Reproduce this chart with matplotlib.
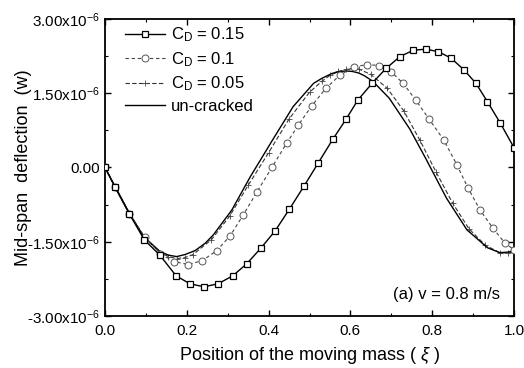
import matplotlib
matplotlib.use("Agg")
import matplotlib.pyplot as plt
from matplotlib.ticker import MultipleLocator

plt.rcParams['font.family'] = ['Liberation Sans', 'DejaVu Sans']
plt.rcParams['mathtext.fontset'] = 'custom'
plt.rcParams['mathtext.rm'] = 'Liberation Sans'
plt.rcParams['mathtext.it'] = 'Liberation Sans:italic'

# deflection values in units of 1e-6
x_c15 = [0, 0.024, 0.059, 0.096, 0.134, 0.174, 0.208, 0.242, 0.276, 0.312,
         0.346, 0.381, 0.416, 0.451, 0.487, 0.522, 0.557, 0.589, 0.618, 0.654,
         0.687, 0.721, 0.754, 0.785, 0.815, 0.846, 0.878, 0.907, 0.935, 0.967, 1.0]
y_c15 = [0.0, -0.39, -0.93, -1.46, -1.77, -2.19, -2.35, -2.41, -2.35, -2.19,
         -1.95, -1.63, -1.28, -0.84, -0.37, 0.10, 0.57, 0.97, 1.36, 1.71,
         2.00, 2.24, 2.37, 2.39, 2.34, 2.21, 1.97, 1.70, 1.33, 0.89, 0.40]

x_c10 = [0, 0.024, 0.059, 0.098, 0.135, 0.169, 0.204, 0.238, 0.273, 0.306,
         0.338, 0.371, 0.408, 0.444, 0.473, 0.505, 0.540, 0.575, 0.608, 0.640,
         0.670, 0.700, 0.729, 0.760, 0.793, 0.828, 0.860, 0.888, 0.917, 0.949,
         0.978, 1.0]
y_c10 = [0.0, -0.39, -0.93, -1.41, -1.74, -1.90, -1.96, -1.88, -1.68, -1.38,
         -0.96, -0.50, 0.0, 0.49, 0.86, 1.24, 1.60, 1.87, 2.03, 2.08,
         2.06, 1.93, 1.70, 1.36, 0.97, 0.56, 0.06, -0.42, -0.86, -1.23,
         -1.53, -1.66]

x_c05 = [0, 0.025, 0.06, 0.095, 0.135, 0.155, 0.175, 0.195, 0.215, 0.26,
         0.305, 0.35, 0.40, 0.45, 0.50, 0.53, 0.55, 0.57, 0.59, 0.605,
         0.62, 0.65, 0.69, 0.73, 0.77, 0.81, 0.85, 0.89, 0.93, 0.965,
         0.985, 1.0]
y_c05 = [0.0, -0.39, -0.93, -1.41, -1.72, -1.80, -1.84, -1.82, -1.76, -1.46,
         -0.98, -0.36, 0.30, 0.98, 1.52, 1.74, 1.86, 1.94, 1.98, 2.00,
         1.99, 1.88, 1.60, 1.15, 0.55, -0.10, -0.72, -1.24, -1.57, -1.72,
         -1.73, -1.70]

x_unc = [0, 0.025, 0.06, 0.095, 0.135, 0.155, 0.175, 0.195, 0.22, 0.245,
         0.265, 0.31, 0.355, 0.41, 0.46, 0.51, 0.53, 0.555, 0.575, 0.59,
         0.605, 0.62, 0.635, 0.655, 0.695, 0.745, 0.785, 0.835, 0.885, 0.935,
         0.965, 0.985, 1.0]
y_unc = [0.0, -0.39, -0.93, -1.40, -1.70, -1.77, -1.80, -1.76, -1.68, -1.53,
         -1.36, -0.86, -0.19, 0.56, 1.23, 1.70, 1.80, 1.90, 1.94, 1.95,
         1.94, 1.91, 1.85, 1.74, 1.40, 0.78, 0.17, -0.62, -1.26, -1.62,
         -1.72, -1.71, -1.68]

y_ticks = [3.0, 1.5, 0.0, -1.5, -3.0]
y_tick_labels = [r'3.00x10$^{-6}$', r'1.50x10$^{-6}$', '0.00',
                 r'-1.50x10$^{-6}$', r'-3.00x10$^{-6}$']

fig = plt.figure(figsize=(5.24, 3.68), dpi=100)
ax = fig.add_axes([0.2004, 0.1413, 0.7805, 0.8071])

ax.plot(x_c15, y_c15, color='black', lw=1.0, marker='s', ms=5,
        mfc='white', mec='black', mew=0.9, label=r'C$_\mathregular{D}$ = 0.15', zorder=4)
ax.plot(x_c10, y_c10, color='#444444', lw=0.8, ls=(0, (3, 2.5)), marker='o', ms=5,
        mfc='white', mec='#555555', mew=0.7, label=r'C$_\mathregular{D}$ = 0.1', zorder=3)
ax.plot(x_c05, y_c05, color='#333333', lw=0.8, ls=(0, (4, 2)), marker='+', ms=4,
        mec='#444444', mew=0.6, label=r'C$_\mathregular{D}$ = 0.05', zorder=2)
ax.plot(x_unc, y_unc, color='black', lw=1.0, label='un-cracked', zorder=2)

ax.set_xlim(0, 1.0)
ax.set_ylim(-3.0, 3.0)
ax.set_xticks([0, 0.2, 0.4, 0.6, 0.8, 1.0])
ax.set_xticklabels(['0.0', '0.2', '0.4', '0.6', '0.8', '1.0'])
ax.xaxis.set_minor_locator(MultipleLocator(0.1))
ax.set_yticks(y_ticks)
ax.set_yticklabels(y_tick_labels)
ax.yaxis.set_minor_locator(MultipleLocator(0.75))
ax.tick_params(which='both', direction='in', top=True, right=True, labelsize=11)
ax.tick_params(axis='x', pad=6)
ax.tick_params(which='major', length=4, width=1)
ax.tick_params(which='minor', length=2.5, width=0.8)
for s in ax.spines.values():
    s.set_linewidth(1.3)

ax.set_xlabel(r'Position of the moving mass ( $\xi$ )', fontsize=13, labelpad=5)
ax.set_ylabel('Mid-span  deflection  (w)', fontsize=13)
ax.yaxis.set_label_coords(-0.178, 0.5)

ax.legend(loc='upper left', frameon=False, fontsize=12, handlelength=2.4,
          handletextpad=0.35, labelspacing=0.35, borderaxespad=0,
          bbox_to_anchor=(0.032, 1.0))
ax.text(0.966, 0.071, '(a) v = 0.8 m/s', transform=ax.transAxes,
        ha='right', va='center', fontsize=12)

fig.savefig('out.png', dpi=100)
